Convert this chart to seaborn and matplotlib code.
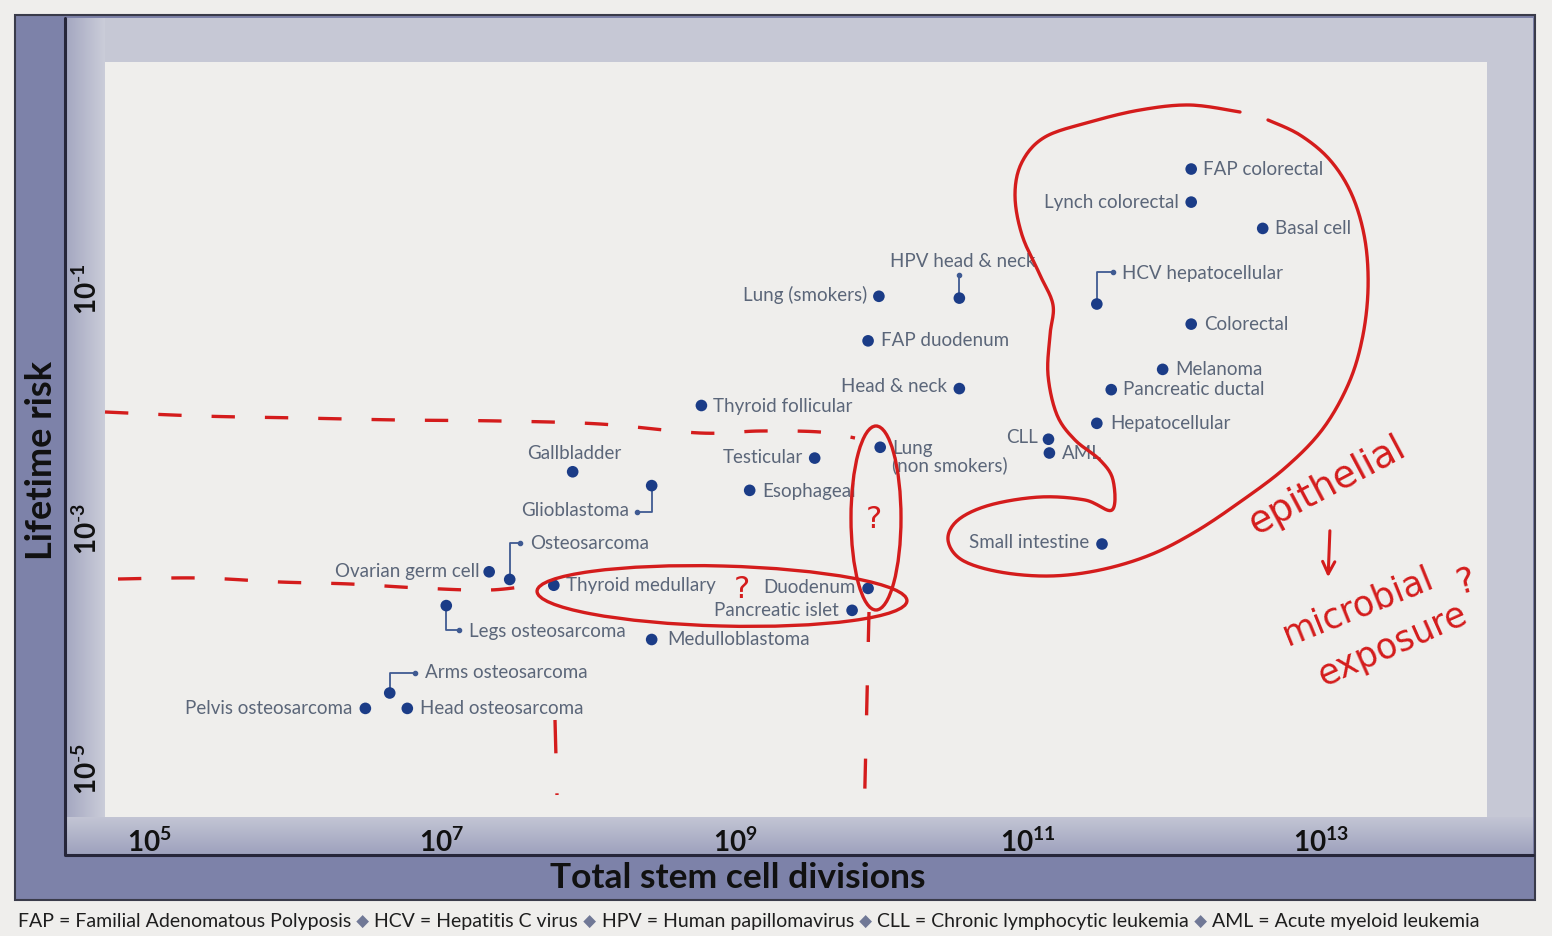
import numpy as np
import pandas as pd
import matplotlib
matplotlib.use("Agg")
import matplotlib.pyplot as plt
import matplotlib.transforms as mtransforms
from matplotlib.patches import Rectangle, Ellipse
import seaborn as sns

# data
cancers = ["FAP colorectal", "Lynch colorectal", "Basal cell", "HCV hepatocellular",
           "Colorectal", "Melanoma", "Pancreatic ductal", "Hepatocellular", "CLL", "AML",
           "Small intestine", "HPV head & neck", "Lung (smokers)", "FAP duodenum",
           "Head & neck", "Thyroid follicular", "Lung\n(non smokers)", "Testicular",
           "Esophageal", "Gallbladder", "Glioblastoma", "Osteosarcoma", "Ovarian germ cell",
           "Thyroid medullary", "Duodenum", "Pancreatic islet", "Legs osteosarcoma",
           "Medulloblastoma", "Arms osteosarcoma", "Pelvis osteosarcoma", "Head osteosarcoma"]
divisions = [1.3e12, 1.3e12, 4.0e12, 2.95e11,
             1.3e12, 8.3e11, 3.7e11, 2.95e11, 1.38e11, 1.4e11,
             3.2e11, 3.4e10, 9.6e9, 8.1e9,
             3.4e10, 5.9e8, 9.8e9, 3.5e9,
             1.26e9, 7.8e7, 2.7e8, 2.9e7, 2.1e7,
             5.8e7, 8.1e9, 6.3e9, 1.07e7,
             2.7e8, 4.4e6, 3.0e6, 5.8e6]
risk = [1.0, 0.53, 0.32, 0.075,
        0.051, 0.0214, 0.0145, 0.0076, 0.0056, 0.0043,
        7.5e-4, 0.084, 0.087, 0.037,
        0.0148, 0.0107, 0.0048, 0.0039,
        0.0021, 0.0030, 0.0023, 3.8e-4, 4.4e-4,
        3.4e-4, 3.2e-4, 2.1e-4, 2.3e-4,
        1.2e-4, 4.3e-5, 3.2e-5, 3.2e-5]
x_ticks = [1e5, 1e7, 1e9, 1e11, 1e13]
x_tick_labels = [r"$\mathbf{10^{5}}$", r"$\mathbf{10^{7}}$", r"$\mathbf{10^{9}}$",
                 r"$\mathbf{10^{11}}$", r"$\mathbf{10^{13}}$"]
y_ticks = [1e-1, 1e-3, 1e-5]
y_tick_labels = [r"$\mathbf{10^{\text{-}1}}$", r"$\mathbf{10^{\text{-}3}}$",
                 r"$\mathbf{10^{\text{-}5}}$"]
footnote_parts = ["FAP = Familial Adenomatous Polyposis", "HCV = Hepatitis C virus",
                  "HPV = Human papillomavirus", "CLL = Chronic lymphocytic leukemia",
                  "AML = Acute myeloid leukemia"]

df = pd.DataFrame({"cancer": cancers, "divisions": divisions, "risk": risk})

# label placement (pixels): plain labels -> (dx, dy, ha)
plain = {
    "FAP colorectal": (12, 0, "left"), "Lynch colorectal": (-12, 0, "right"),
    "Basal cell": (12, 0, "left"), "Colorectal": (13, 0, "left"),
    "Melanoma": (13, 0, "left"), "Pancreatic ductal": (12, 0, "left"),
    "Hepatocellular": (13, 0, "left"), "CLL": (-11, 2, "right"), "AML": (13, 0, "left"),
    "Small intestine": (-13, 2, "right"), "Lung (smokers)": (-12, 1, "right"),
    "FAP duodenum": (13, 0, "left"), "Head & neck": (-12, 2, "right"),
    "Thyroid follicular": (12, -1, "left"), "Lung\n(non smokers)": (12, -10, "left"),
    "Testicular": (-12, 1, "right"), "Esophageal": (13, -1, "left"),
    "Gallbladder": (2, 18, "center"), "Ovarian germ cell": (-10, 0, "right"),
    "Thyroid medullary": (12, 0, "left"), "Duodenum": (-12, 1, "right"),
    "Pancreatic islet": (-13, 0, "right"), "Medulloblastoma": (16, 0, "left"),
    "Pelvis osteosarcoma": (-13, 0, "right"), "Head osteosarcoma": (13, 0, "left"),
}
# connector labels -> path offsets from dot (pixels, y up), then text placement
connectors = {
    "HPV head & neck": ([(0, 0), (0, 23)], (3, 37, "center")),
    "HCV hepatocellular": ([(0, 0), (0, 32), (16, 32)], (25, 31, "left")),
    "Glioblastoma": ([(0, 0), (0, -26), (-15, -26)], (-23, -25, "right")),
    "Osteosarcoma": ([(0, 0), (0, 36), (10, 36)], (20, 36, "left")),
    "Legs osteosarcoma": ([(0, 0), (0, -24), (13, -24)], (23, -26, "left")),
    "Arms osteosarcoma": ([(0, 0), (0, 20), (25, 20)], (35, 20, "left")),
}

W, H, DPI = 1552, 936, 100
sns.set_theme(style="white")
plt.rcParams["font.family"] = ["Lato", "DejaVu Sans"]
plt.rcParams["mathtext.fontset"] = "custom"
plt.rcParams["mathtext.bf"] = "Lato:bold"
plt.rcParams["mathtext.rm"] = "Lato"

fig = plt.figure(figsize=(W / DPI, H / DPI), dpi=DPI, facecolor="#efeeec")

# background frame (pixel coordinates, y down)
bg = fig.add_axes([0, 0, 1, 1], zorder=0)
bg.set_xlim(0, W)
bg.set_ylim(H, 0)
bg.axis("off")
bg.add_patch(Rectangle((15, 15), 1520, 885, facecolor="#7d82a9", edgecolor="#3a3b4a", lw=1.5))
bg.add_patch(Rectangle((65, 18), 1468, 837, facecolor="#c6c8d5", edgecolor="none"))
grad_h = np.linspace(0, 1, 64)[None, :]
bg.imshow(grad_h, extent=(65, 105, 855, 18), cmap=matplotlib.colors.LinearSegmentedColormap.from_list(
    "l", ["#a3a6c0", "#cbcdd9"]), aspect="auto", zorder=1)
grad_v = np.linspace(0, 1, 64)[:, None]
bg.imshow(grad_v, extent=(65, 1533, 855, 817), cmap=matplotlib.colors.LinearSegmentedColormap.from_list(
    "b", ["#c3c5d4", "#9da1bd"]), aspect="auto", zorder=1)
bg.plot([65, 65, 1533], [18, 855, 855], color="#26263a", lw=2.2, zorder=2)

# main scatter
ax = fig.add_axes([105 / W, 1 - 817 / H, 1382 / W, 755 / H], zorder=1)
ax.set_facecolor("#efeeec")
ax.set_xscale("log")
ax.set_yscale("log")
ax.set_xlim(10 ** 4.70, 10 ** 14.133)
ax.set_ylim(10 ** -5.40, 10 ** 0.892)
sns.scatterplot(data=df, x="divisions", y="risk", ax=ax, s=70, color="#1b3c87",
                edgecolor="none", zorder=5, legend=False)
for s in ax.spines.values():
    s.set_visible(False)
ax.set_xticks(x_ticks)
ax.set_xticklabels(x_tick_labels, fontsize=20, color="#111111")
ax.set_yticks(y_ticks)
ax.set_yticklabels(y_tick_labels, fontsize=20, color="#111111", rotation=90, va="center")
ax.xaxis.set_minor_locator(matplotlib.ticker.NullLocator())
ax.yaxis.set_minor_locator(matplotlib.ticker.NullLocator())
ax.tick_params(axis="x", length=0, pad=8)
ax.tick_params(axis="y", length=0, pad=2)
ax.set_xlabel("")
ax.set_ylabel("")

label_color = "#5b6679"
for name, xv, yv in zip(df["cancer"], df["divisions"], df["risk"]):
    if name in plain:
        dx, dy, ha = plain[name]
        ax.annotate(name, (xv, yv), xytext=(dx, dy), textcoords="offset pixels",
                    ha=ha, va="center", fontsize=13.5, color=label_color,
                    linespacing=0.95, zorder=6)
    else:
        path, (tx, ty, ha) = connectors[name]
        px, py = ax.transData.transform((xv, yv))
        xs = [px + p[0] for p in path]
        ys = [py + p[1] for p in path]
        ax.plot(xs, ys, color="#3f5a92", lw=1.3, transform=mtransforms.IdentityTransform(),
                zorder=4, clip_on=False)
        ax.plot(xs[-1:], ys[-1:], "o", ms=3, color="#3f5a92",
                transform=mtransforms.IdentityTransform(), zorder=4, clip_on=False)
        ax.annotate(name, (xv, yv), xytext=(tx, ty), textcoords="offset pixels",
                    ha=ha, va="center", fontsize=13.5, color=label_color, zorder=6)

# axis titles and footnote
fig.text(42 / W, 1 - 460 / H, "Lifetime risk", rotation=90, ha="center", va="center",
         fontsize=26, fontweight="bold", color="#111111")
fig.text(738 / W, 1 - 878 / H, "Total stem cell divisions", ha="center", va="center",
         fontsize=25.5, fontweight="bold", color="#111111")

renderer = fig.canvas.get_renderer()
xpos = 18
for i, part in enumerate(footnote_parts):
    if i > 0:
        d = fig.text(xpos / W, 1 - 922 / H, " \u25c6 ", ha="left", va="center",
                     fontsize=12, color="#707896", family="DejaVu Sans")
        xpos += d.get_window_extent(renderer).width
    t = fig.text(xpos / W, 1 - 922 / H, part, ha="left", va="center", fontsize=14,
                 color="#1e1e1e")
    xpos += t.get_window_extent(renderer).width

# hand-drawn red annotations (overlay, pixel coordinates)
ov = fig.add_axes([0, 0, 1, 1], zorder=3)
ov.set_xlim(0, W)
ov.set_ylim(H, 0)
ov.axis("off")
ov.patch.set_alpha(0)
red = "#d41c1c"


def smooth(pts, n=14):
    P = np.array(pts, float)
    P = np.vstack([P[0], P, P[-1]])
    out = []
    t = np.linspace(0, 1, n, endpoint=False)[:, None]
    for i in range(1, len(P) - 2):
        p0, p1, p2, p3 = P[i - 1], P[i], P[i + 1], P[i + 2]
        out.append(0.5 * (2 * p1 + (-p0 + p2) * t + (2 * p0 - 5 * p1 + 4 * p2 - p3) * t ** 2
                          + (-p0 + 3 * p1 - 3 * p2 + p3) * t ** 3))
    out.append(P[-2][None])
    return np.vstack(out)


lasso = [(1268, 120), (1300, 135), (1330, 160), (1352, 195), (1365, 240), (1368, 290),
         (1362, 340), (1348, 385), (1322, 430), (1285, 468), (1240, 502), (1195, 532),
         (1150, 555), (1100, 570), (1050, 576), (1000, 572), (962, 560), (948, 540),
         (958, 520), (990, 505), (1040, 497), (1085, 500), (1112, 510), (1113, 480),
         (1100, 460), (1075, 440), (1057, 415), (1048, 375), (1050, 335), (1053, 305),
         (1040, 275), (1022, 235), (1015, 195), (1022, 162), (1045, 137), (1090, 122),
         (1140, 110), (1190, 105), (1240, 112)]
c = smooth(lasso)
ov.plot(c[:, 0], c[:, 1], color=red, lw=2.4, solid_capstyle="round")

ov.add_patch(Ellipse((722, 596), 370, 60, angle=1.5, fill=False, edgecolor=red, lw=2.4))
ov.add_patch(Ellipse((876, 518), 50, 184, angle=0, fill=False, edgecolor=red, lw=2.4))

upper = smooth([(105, 412), (200, 416), (300, 418), (400, 420), (500, 421), (600, 424),
                (700, 433), (760, 431), (820, 432), (855, 438)])
ov.plot(upper[:, 0], upper[:, 1], color=red, lw=2.4, dashes=(7, 9))
lower = smooth([(118, 579), (200, 578), (280, 582), (350, 584), (420, 588), (490, 590),
                (540, 584)])
ov.plot(lower[:, 0], lower[:, 1], color=red, lw=2.4, dashes=(7, 9))
ov.plot([555, 557], [720, 795], color=red, lw=2.4, dashes=(10, 12))
ov.plot([869, 864], [612, 825], color=red, lw=2.4, dashes=(9, 13))

ov.text(742, 590, "?", color=red, fontsize=22, ha="center", va="center",
        family="DejaVu Sans")
ov.text(874, 520, "?", color=red, fontsize=22, ha="center", va="center",
        family="DejaVu Sans")
ov.text(1328, 486, "epithelial", color=red, fontsize=27, rotation=28, ha="center",
        va="center", family="DejaVu Sans")
ov.annotate("", xy=(1328, 580), xytext=(1330, 528),
            arrowprops=dict(arrowstyle="->", color=red, lw=2.2, mutation_scale=22))
ov.text(1358, 606, "microbial", color=red, fontsize=25, rotation=22, ha="center",
        va="center", family="DejaVu Sans")
ov.text(1392, 645, "exposure", color=red, fontsize=25, rotation=24, ha="center",
        va="center", family="DejaVu Sans")
ov.text(1466, 582, "?", color=red, fontsize=25, rotation=15, ha="center", va="center",
        family="DejaVu Sans")

fig.savefig("out.png", dpi=DPI, facecolor=fig.get_facecolor())
